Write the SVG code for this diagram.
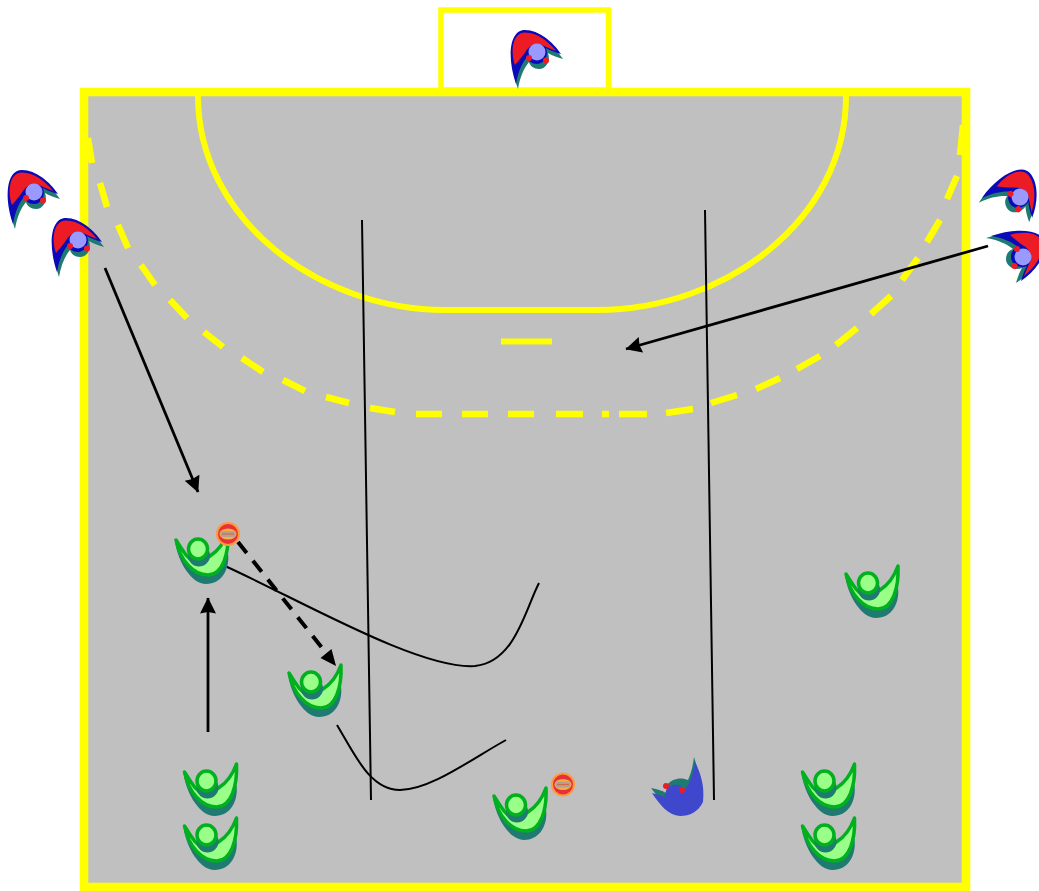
<svg xmlns="http://www.w3.org/2000/svg" width="1039" height="891" viewBox="0 0 1039 891">
<style>
.y{fill:none;stroke:#ffff00}
.c{fill:none;stroke:#000;stroke-width:2}
.a{fill:none;stroke:#000;stroke-width:2.8}
.teal{fill:#1f7a72}
.gb{fill:#99ff88;stroke:#00b01e;stroke-width:3.500;stroke-linejoin:round}
.rb{fill:#ed1c24}
.bb{fill:#0a0ab8}
.rd{fill:#ed1c24}
</style>
<defs>
<marker id="ah" markerUnits="userSpaceOnUse" markerWidth="18" markerHeight="18" refX="15.500" refY="8" orient="auto">
<path d="M0,0L16,8L0,16L1.500,8Z" fill="#000"/>
</marker>
<path id="rshape" d="M-21,32C-30,6 -28,-22 -12,-22C2,-22 16,-10 24,2C17,0 12,-2 9,-4C12,4 7,12 0,12C-5,12 -9,9 -10,5C-15,11 -19,20 -21,32Z"/>
<g id="gp">
<path class="teal" d="M-23,-8C-20,14 -6,35 8,35C24,35 32,20 30,4L12,12C13,3 8,-2 0,-1C-7,0 -11,5 -11,11Z"/>
<path class="gb" d="M-22,-9C-18,11 -5,26 10,26C25,26 31,4 30,-17C26,-6 20,2 12,7C6,11 1,14 -3,13C-11,10 -16,0 -22,-9Z"/>
<circle class="teal" cx="1" cy="6.500" r="11"/>
<ellipse class="gb" cx="0" cy="0" rx="9.500" ry="10"/>
</g>
<g id="rp">
<use href="#rshape" class="teal" transform="translate(2,5)"/>
<use href="#rshape" class="bb"/>
<path class="rb" d="M-22,13C-27,-2 -24,-19.500 -12,-19.500C0,-19.500 11,-11 19,-1C14,-3 9,-5 5,-7C-1,-10 -8,-6 -11,-1C-14,4 -18,8 -22,13Z"/>
<circle cx="0" cy="0" r="8.500" fill="#9999ff"/>
<circle class="rd" cx="-8" cy="6" r="3"/>
<circle class="rd" cx="9" cy="8.500" r="3"/>
</g>
<g id="bl">
<circle r="12" fill="#ff9a3c"/>
<circle r="10" fill="#e8303a"/>
<ellipse rx="8.500" ry="5.500" fill="#f5b040"/>
<rect x="-7.500" y="-3" width="15" height="6" rx="2" fill="#b8a090"/>
<path d="M-6,0H6" stroke="#d06a50" stroke-width="1.200"/>
</g>
</defs>
<g id="court">
<rect x="84" y="92" width="882" height="795" fill="#c0c0c0" stroke="#ffff00" stroke-width="8.600"/>
<rect x="441" y="10" width="167.500" height="80" fill="#fff" stroke="#ffff00" stroke-width="5.500"/>
<path class="y" stroke-width="6" d="M198,96C198,220 320,310 445,310L597,310C725,310 846,220 846,96"/>
<path class="y" stroke-width="6" d="M501,341.500H552"/>
<path class="y" stroke-width="6.500" d="M88,138L92,163M100,183L107,207M118,225L128,248M141,265L155,285M170,300L187,318M204,332L223,347M242,358L263,372M283,380L305,391M326,397L349,403M370,408L395,412M416,414H442M462,414H488M508,414H534M556,414H583M602,414H609M619,414H647M666,413L693,409M711,403L737,395M756,389L780,378M797,369L820,356M836,345L857,328M871,314L891,296M902,280L918,258M927,242L940,220M947,199L957,176M960,155L963,125"/>
</g>
<g id="connectors">
<path class="c" d="M362,220L371,800"/>
<path class="c" d="M705,210L714,800"/>
<path class="a" marker-end="url(#ah)" d="M105,268L198,492"/>
<path class="a" marker-end="url(#ah)" d="M988,246L626,349"/>
<path class="a" marker-end="url(#ah)" d="M208,732L208,598"/>
<path fill="none" stroke="#000" stroke-width="4" stroke-dasharray="14 10" d="M238,542L327,654"/>
<path fill="#000" d="M336,666L320.500,658L331.500,649Z"/>
<path class="c" d="M225,566C300,600 420,670 475,666C515,662 525,610 539,583"/>
<path class="c" d="M337,725C355,755 370,790 400,790C430,790 470,760 506,740"/>
</g>
<g id="gk"><use href="#rp" transform="translate(537,52)"/></g>
<g id="red1"><use href="#rp" transform="translate(34,192)"/></g>
<g id="red2"><use href="#rp" transform="translate(78,240)"/></g>
<g id="red3"><use href="#rp" transform="translate(1020,197) rotate(55)"/></g>
<g id="red4"><use href="#rp" transform="translate(1023,257) rotate(90)"/></g>
<g id="green1"><use href="#gp" transform="translate(198,549)"/></g>
<g id="green2"><use href="#gp" transform="translate(311,682)"/></g>
<g id="green3"><use href="#gp" transform="translate(206.500,781)"/></g>
<g id="green4"><use href="#gp" transform="translate(206.500,835)"/></g>
<g id="green5"><use href="#gp" transform="translate(516,805)"/></g>
<g id="green6"><use href="#gp" transform="translate(868,583)"/></g>
<g id="green7"><use href="#gp" transform="translate(824.500,781)"/></g>
<g id="green8"><use href="#gp" transform="translate(824.500,835)"/></g>
<g id="defender">
<path class="teal" d="M651,788C658,789 663,791 666,793L667,785C672,778 682,777 688,780C691,774 693,765 694,757L698,770L690,795L670,800L658,797Z"/>
<path fill="#3f48cc" d="M652,793L665,797C665,790 668,786 674,785C680,784 683,788 684,790C690,784 693,775 695,762C700,772 705,785 703,802C698,812 690,816 680,816C668,815 660,805 652,793Z"/>
<circle class="rd" cx="666" cy="786" r="3"/>
<circle class="rd" cx="682" cy="790" r="3"/>
</g>
<g id="ball1"><use href="#bl" transform="translate(228,534)"/></g>
<g id="ball2"><use href="#bl" transform="translate(563,784.500)"/></g>
</svg>
